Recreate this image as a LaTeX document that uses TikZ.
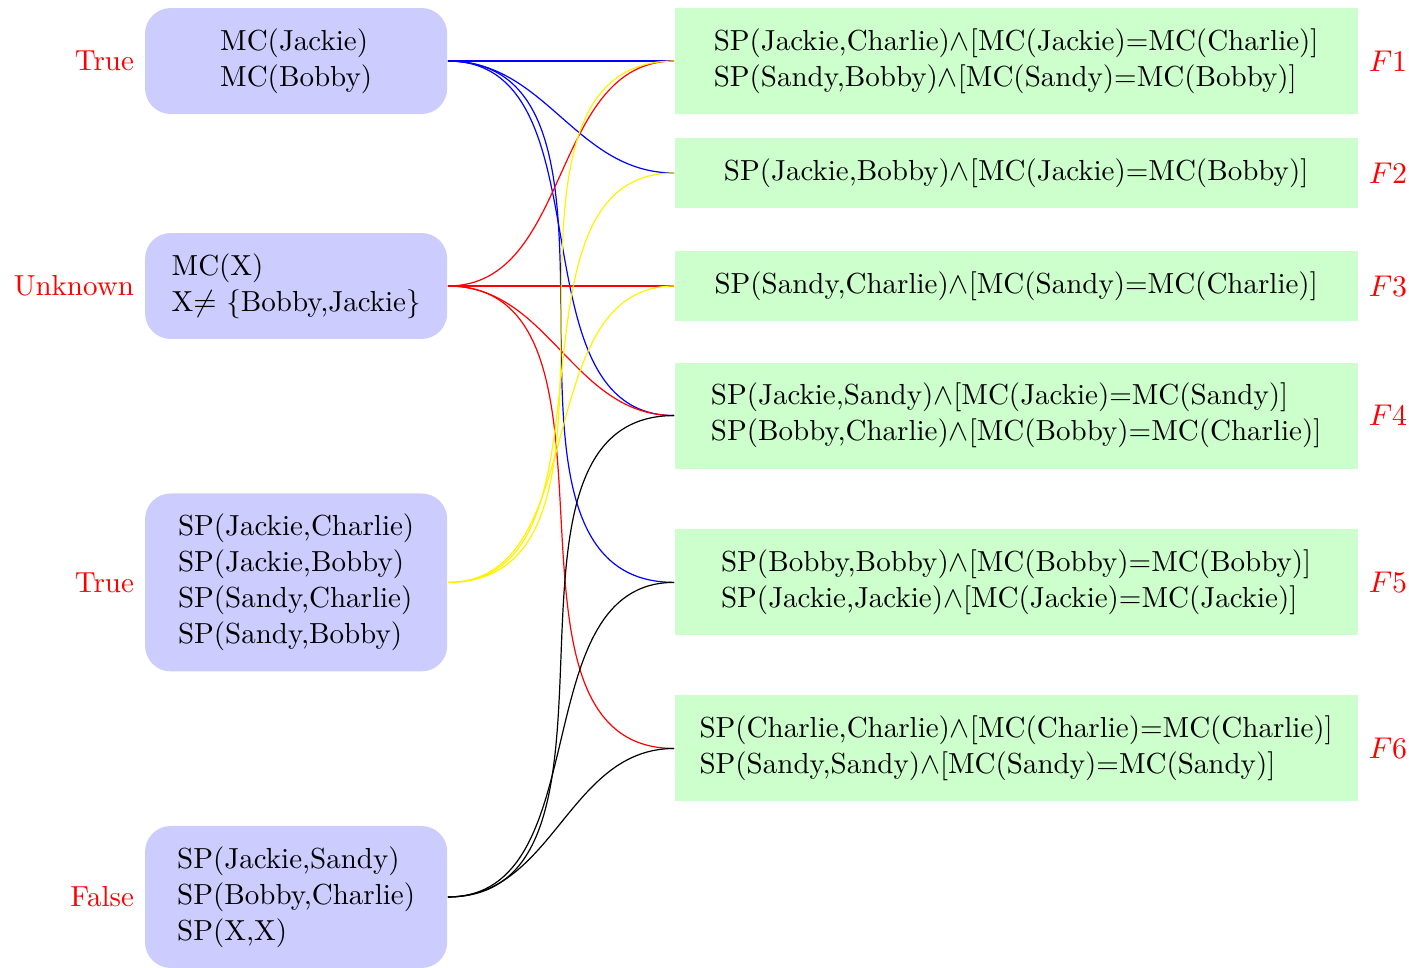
\documentclass[tikz,border=0pt]{standalone}
\usepackage{tikz}

\begin{document}
\begin{tikzpicture}[font=\fontsize{9.67}{12}\selectfont,
                    fact/.style={rectangle, rounded corners=3mm, fill=blue!20, align=left,
                                 minimum width=3.54cm, inner sep=2.4mm},
                    formula/.style={rectangle, fill=green!20, align=left, anchor=west,
                                    minimum width=8cm, inner sep=2.4mm},
                    every label/.style={red}
]
\useasboundingbox (-3.47,0.715) rectangle (13.04,-10.627);

\node [fact, label=left:True] at (0,0) (know1) {MC(Jackie)\\MC(Bobby)};
\node [fact, label=left:Unknown] at (0,-2.636) (know2) {MC(X)\\X$\neq$ \{Bobby,Jackie\}};
\node [fact, label=left:True] at (0,-6.109) (know3) {SP(Jackie,Charlie)\\SP(Jackie,Bobby)\\SP(Sandy,Charlie)\\SP(Sandy,Bobby)};
\node [fact, label=left:False] at (0,-9.795) (know4) {SP(Jackie,Sandy)\\SP(Bobby,Charlie)\\SP(X,X)};
%
\node [formula, label=right:$F1$] at (4.43,0) (f1) {SP(Jackie,Charlie)$\wedge$[MC(Jackie)=MC(Charlie)]\\SP(Sandy,Bobby)$\wedge$[MC(Sandy)=MC(Bobby)]};
\node [formula, label=right:$F2$] at (4.43,-1.312) (f2) {SP(Jackie,Bobby)$\wedge$[MC(Jackie)=MC(Bobby)]};
\node [formula, label=right:$F3$] at (4.43,-2.636) (f3) {SP(Sandy,Charlie)$\wedge$[MC(Sandy)=MC(Charlie)]};
\node [formula, label=right:$F4$] at (4.43,-4.154) (f4) {SP(Jackie,Sandy)$\wedge$[MC(Jackie)=MC(Sandy)]\\SP(Bobby,Charlie)$\wedge$[MC(Bobby)=MC(Charlie)]};
\node [formula, label=right:$F5$] at (4.43,-6.109) (f5) {SP(Bobby,Bobby)$\wedge$[MC(Bobby)=MC(Bobby)]\\SP(Jackie,Jackie)$\wedge$[MC(Jackie)=MC(Jackie)]};
\node [formula, label=right:$F6$] at (4.43,-8.055) (f6) {SP(Charlie,Charlie)$\wedge$[MC(Charlie)=MC(Charlie)]\\SP(Sandy,Sandy)$\wedge$[MC(Sandy)=MC(Sandy)]};
%
\draw[blue] (know1.east) to[out=0,in=180] (f1.west);
\draw[blue] (know1.east) to[out=0,in=180] (f2.west);
\draw[blue] (know1.east) to[out=0,in=180] (f4.west);
\draw[blue] (know1.east) to[out=0,in=180] (f5.west);
%
\draw[red] (know2.east) to[out=0,in=180] (f1.west);
\draw[red] (know2.east) to[out=0,in=180] (f3.west);
\draw[red] (know2.east) to[out=0,in=180] (f4.west);
\draw[red] (know2.east) to[out=0,in=180] (f6.west);
%
\draw[yellow] (know3.east) to[out=0,in=180] (f1.west);
\draw[yellow] (know3.east) to[out=0,in=180] (f2.west);
\draw[yellow] (know3.east) to[out=0,in=180] (f3.west);
%
\draw (know4.east) to[out=0,in=180] (f4.west);
\draw (know4.east) to[out=0,in=180] (f5.west);
\draw (know4.east) to[out=0,in=180] (f6.west);
\end{tikzpicture}
\end{document}
